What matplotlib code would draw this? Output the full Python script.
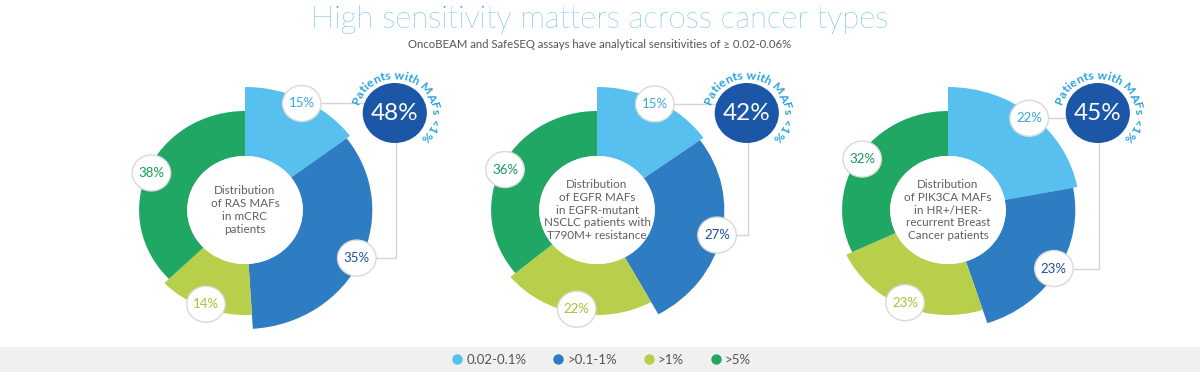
import numpy as np
import matplotlib
matplotlib.use("Agg")
import matplotlib.pyplot as plt
from matplotlib.patches import Wedge, Circle, Rectangle
from matplotlib.lines import Line2D
from matplotlib import font_manager
from matplotlib.ft2font import FT2Font

plt.rcParams["font.family"] = ["Lato", "DejaVu Sans"]

# data
categories = ["0.02-0.1%", ">0.1-1%", ">1%", ">5%"]
ras_mcrc = [15, 35, 14, 38]
egfr_nsclc = [15, 27, 22, 36]
pik3ca_breast = [22, 23, 23, 32]
below_1pct = [48, 42, 45]
center_texts = [
    "Distribution\nof RAS MAFs\nin mCRC\npatients",
    "Distribution\nof EGFR MAFs\nin EGFR-mutant\nNSCLC patients with\nT790M+ resistance",
    "Distribution\nof PIK3CA MAFs\nin HR+/HER-\nrecurrent Breast\nCancer patients",
]
title = "High sensitivity matters across cancer types"
subtitle = "OncoBEAM and SafeSEQ assays have analytical sensitivities of \u2265 0.02-0.06%"
arc_label = "Patients with MAFs <1%"

# style
colors = ["#58c0ee", "#2e7cc2", "#b7cf4b", "#1fa763"]
text_colors = ["#36a9df", "#1f4f99", "#a6c135", "#18985a"]
navy = "#1b57a6"
outer_r = [123, 119, 105, 99]
inner_r = 54
SX = 1.07         # horizontal stretch of the original picture
W, H = 1200, 372
centers_px = [245, 597, 948]
cy_px = 210
grey_line = "#d4d4d4"


def X(px):
    return px / SX


def Y(py):
    return H - py


fig = plt.figure(figsize=(12, 3.72), dpi=100)
ax = fig.add_axes([0, 0, 1, 1])
ax.set_xlim(0, W / SX)
ax.set_ylim(0, H)
ax.axis("off")


def char_advances(s, fp):
    font = FT2Font(font_manager.findfont(fp))
    font.set_size(fp.get_size_in_points(), 100)
    out = []
    for ch in s:
        g = font.load_char(ord(ch))
        out.append(g.linearHoriAdvance / 65536.0)
    return out


def arc_text(cx, cy, r, s, center_deg, fp, color):
    adv = char_advances(s, fp)
    adv = [a + 0.4 for a in adv]  # a bit of tracking
    total = sum(adv)
    # arc length table, walking clockwise from the centre angle
    t = np.radians(center_deg) - np.linspace(-np.pi, np.pi, 4001)
    dx = SX * r * np.sin(t)
    dy = r * np.cos(t)
    ds = np.hypot(dx, dy) * (2 * np.pi / 4000)
    s_cum = np.concatenate([[0], np.cumsum(ds[:-1])])
    s_cum -= np.interp(np.radians(center_deg), t[::-1], s_cum[::-1])
    pos = -total / 2
    for ch, a in zip(s, adv):
        sc = pos + a / 2
        tt = np.interp(sc, s_cum, t)
        x = cx + r * np.cos(tt)
        y = cy + r * np.sin(tt)
        rot = np.degrees(np.arctan2(-r * np.cos(tt), SX * r * np.sin(tt)))
        ax.text(x, y, ch, rotation=rot, rotation_mode="anchor", ha="center",
                va="center", fontproperties=fp, color=color, zorder=6)
        pos += a


arc_fp = font_manager.FontProperties(family="Lato", weight="bold", size=8.8)

for k, vals in enumerate([ras_mcrc, egfr_nsclc, pik3ca_breast]):
    cx, cy = X(centers_px[k]), Y(cy_px)
    fr = np.array(vals, dtype=float) / sum(vals)
    cum = np.concatenate([[0], np.cumsum(fr)])
    label_pos = []
    for i in range(4):
        t1 = 90 - cum[i + 1] * 360
        t2 = 90 - cum[i] * 360
        ax.add_patch(Wedge((cx, cy), outer_r[i], t1, t2, width=outer_r[i] - inner_r,
                           facecolor=colors[i], edgecolor="none", zorder=2))
        mid = np.radians(90 - (cum[i] + fr[i] / 2) * 360)
        lr = outer_r[i] - 4
        label_pos.append((cx + lr * np.cos(mid), cy + lr * np.sin(mid)))
    ax.add_patch(Circle((cx, cy), inner_r, facecolor="white", edgecolor="none", zorder=3))
    ax.text(cx, cy, center_texts[k], ha="center", va="center", fontsize=8.4,
            color="#5f5f5f", linespacing=1.22, zorder=4)

    # big circle with share of patients below 1%
    bx, by = cx + 140, cy + 97
    lx0, ly0 = label_pos[0]
    lx1, ly1 = label_pos[1]
    ax.plot([lx0, bx], [ly0, ly0], color=grey_line, lw=1, zorder=1)
    ax.plot([bx + 1.5, bx + 1.5, lx1], [by, ly1, ly1], color=grey_line, lw=1, zorder=1)
    ax.add_patch(Circle((bx, by), 30, facecolor=navy, edgecolor="none", zorder=5))
    ax.text(bx, by - 1, f"{below_1pct[k]}%", ha="center", va="center", fontsize=17.5,
            color="white", zorder=6)
    arc_text(bx, by, 37.5, arc_label, 62, arc_fp, "#2aa4dc")

    for i in range(4):
        x, y = label_pos[i]
        ax.add_patch(Circle((x, y), 18, facecolor="white", edgecolor="#d9d9d9",
                            lw=1, zorder=7))
        ax.text(x, y, f"{vals[i]}%", ha="center", va="center", fontsize=9.5,
                color=text_colors[i], zorder=8)

# titles
fig.text(0.5, 1 - 19 / H, title, ha="center", va="center", fontsize=22.3,
         color="#1798d5", fontweight="light")
fig.text(0.5, 1 - 45 / H, subtitle, ha="center", va="center", fontsize=8.2,
         color="#555555")

# legend band
fig.patches.append(Rectangle((0, 0), 1, 25 / H, transform=fig.transFigure,
                             facecolor="#f0f0f0", edgecolor="none", zorder=0))
handles = [Line2D([], [], marker="o", ls="none", markersize=7.5, markerfacecolor=c,
                  markeredgecolor="none") for c in colors]
fig.legend(handles, categories, loc="center", bbox_to_anchor=(0.5, 12 / H), ncol=4,
           frameon=False, handletextpad=0.1, columnspacing=1.8, fontsize=9.5,
           labelcolor="#555555", handlelength=1.2)

fig.savefig("out.png", dpi=100)
